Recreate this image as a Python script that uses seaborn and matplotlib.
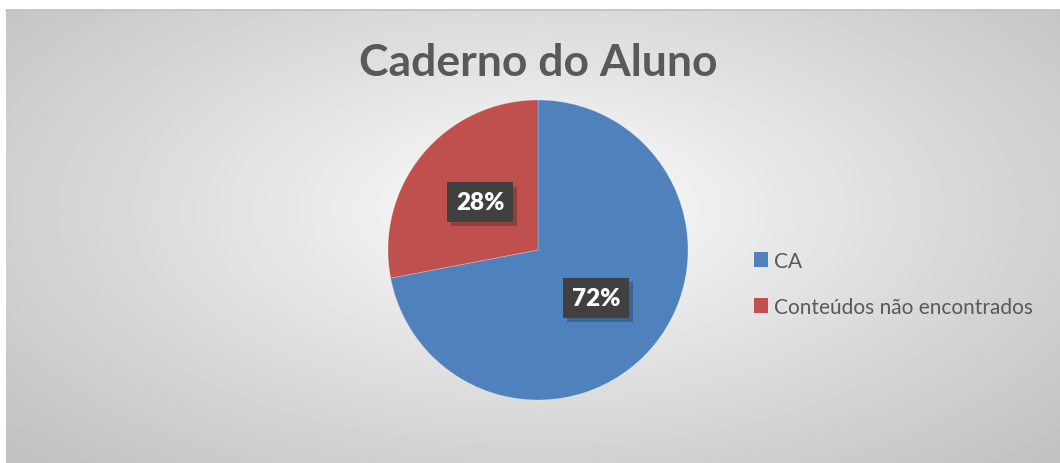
import numpy as np
import seaborn as sns
import matplotlib.pyplot as plt
from matplotlib.patches import Patch
import matplotlib.patheffects as pe

categories = ["CA", "Conteúdos não encontrados"]
values = [72, 28]
label_texts = ["72%", "28%"]
colors = ["#4F81BD", "#C0504D"]
title = "Caderno do Aluno"

sns.set_style("white")
plt.rcParams["font.family"] = ["Lato", "DejaVu Sans"]

W, H = 1060, 464
fig = plt.figure(figsize=(W / 100, H / 100), dpi=100)
fig.patch.set_facecolor("white")

# radial grey background of the chart area
bg = fig.add_axes([6 / W, 0, (W - 6) / W, (H - 11) / H])
yy, xx = np.mgrid[0:453, 0:1054]
cx, cy = 532, 200
t = np.sqrt(((xx - cx) / 527) ** 2 + ((yy - cy) / 260) ** 2) / np.sqrt(2)
t = np.clip(t, 0, 1)
shade = 1.0 - 0.25 * t ** 0.9
bg.imshow(shade, cmap="gray", vmin=0, vmax=1, aspect="auto",
          extent=(0, 1, 0, 1), origin="upper")
bg.set_axis_off()
fig.add_artist(plt.Line2D([6 / W, 1], [(H - 11) / H] * 2,
                          color="#bfbfbf", lw=1.2))

# pie
r = 150
pcx, pcy = 538, 251
ax = fig.add_axes([(pcx - r) / W, (H - pcy - r) / H, 2 * r / W, 2 * r / H])
wedges, _ = ax.pie(values, colors=colors, startangle=90, counterclock=False,
                   wedgeprops=dict(linewidth=0.6, edgecolor="#ffffff40"))
ax.set_xlim(-1, 1)
ax.set_ylim(-1, 1)
ax.set_aspect("auto")
ax.set_axis_off()

start = 90
for v, txt in zip(values, label_texts):
    mid = np.deg2rad(start - v / 100 * 360 / 2)
    start -= v / 100 * 360
    x, y = 0.5 * np.cos(mid), 0.5 * np.sin(mid)
    lab = ax.text(x, y, txt, ha="center", va="center", fontsize=17.5,
                  fontweight="heavy", color="white",
                  bbox=dict(boxstyle="square,pad=0.36", fc="#404040",
                            ec="none"))
    lab.get_bbox_patch().set_path_effects(
        [pe.SimplePatchShadow(offset=(3, -3), shadow_rgbFace="black",
                              alpha=0.22), pe.Normal()])

fig.text(538 / W, 1 - 63 / H, title, ha="center", va="center",
         fontsize=32, fontweight="bold", color="#595959")

handles = [Patch(facecolor=c, edgecolor="none") for c in colors]
fig.legend(handles, categories, loc="center left",
           bbox_to_anchor=(735 / W, 1 - 285 / H), frameon=False,
           fontsize=15, labelcolor="#595959", handlelength=0.7,
           handleheight=0.7, handletextpad=0.25, labelspacing=1.25)

fig.savefig("out.png", dpi=100)
